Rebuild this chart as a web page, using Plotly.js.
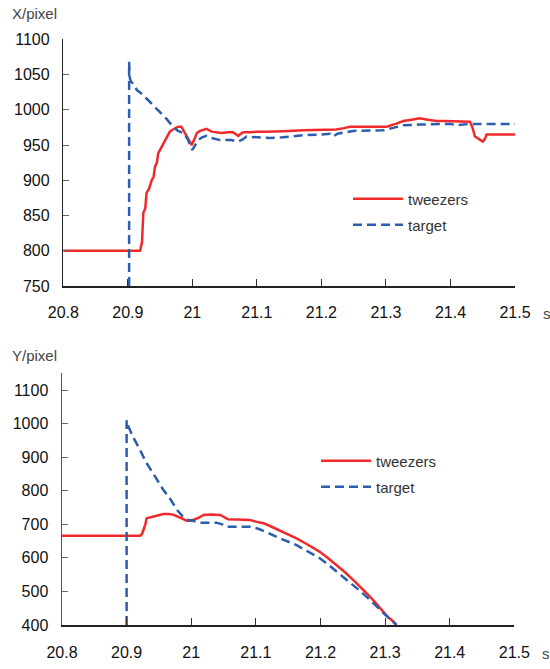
<!DOCTYPE html>
<html>
<head>
<meta charset="utf-8">
<script src="https://cdn.plot.ly/plotly-3.0.1.min.js"></script>
<style>
html,body{margin:0;padding:0;background:#fff;}
#chart{width:550px;height:669px;}
</style>
</head>
<body>
<div id="chart"></div>
<script>
// ---- X position (top chart) ----
const tXTweezers = [20.8,20.919,20.922,20.924,20.927,20.929,20.933,20.937,20.940,20.942,20.945,20.947,20.951,20.955,20.960,20.965,20.970,20.978,20.983,20.988,20.993,20.999,21.003,21.007,21.012,21.022,21.030,21.035,21.045,21.055,21.063,21.068,21.071,21.075,21.079,21.09,21.10,21.115,21.13,21.15,21.172,21.19,21.21,21.223,21.235,21.244,21.26,21.285,21.301,21.315,21.327,21.34,21.352,21.365,21.378,21.39,21.41,21.43,21.434,21.438,21.445,21.450,21.453,21.456,21.5];
const xTweezers = [800,800,812,854,860,882,888,900,905,919,925,938,945,952,960,969,972,976,976,968,958,950,958,967,970,973,969,968,967,968,968,965,963,966,968,968,969,969,969,970,971,971,972,972,974,976,976,976,976,980,984,986,988,986,984,984,983,983,975,962,958,955,958,965,965];

const tXTarget = [20.902,20.902,20.903,20.905,20.910,20.914,20.920,20.929,20.940,20.950,20.960,20.970,20.978,20.986,20.993,21.0,21.004,21.009,21.015,21.022,21.030,21.043,21.060,21.071,21.078,21.084,21.10,21.12,21.14,21.172,21.200,21.213,21.218,21.225,21.249,21.27,21.296,21.31,21.327,21.35,21.378,21.40,21.41,21.43,21.45,21.5];
const xTarget = [750,1068,1045,1040,1035,1028,1024,1016,1006,997,987,976,970,967,958,943,950,957,961,963,960,957,957,955,958,962,961,960,961,964,965,966,962,966,970,970,971,974,978,979,980,980,978,980,980,980];

// ---- Y position (bottom chart) ----
const tYTweezers = [20.8,20.921,20.924,20.926,20.929,20.931,20.941,20.950,20.957,20.965,20.972,20.980,20.987,20.993,21.000,21.006,21.012,21.019,21.030,21.045,21.050,21.057,21.070,21.091,21.100,21.112,21.122,21.132,21.145,21.163,21.180,21.199,21.212,21.225,21.238,21.251,21.264,21.277,21.285,21.292,21.300,21.307,21.313,21.317];
const yTweezers = [666,666,672,683,700,718,723,728,731,731,729,722,715,711,711,715,720,728,729,728,722,715,714,713,708,703,695,686,676,658,640,618,599,579,557,534,510,484,467,450,433,420,410,400];

const tYTarget = [20.900,20.900,20.903,20.910,20.921,20.930,20.941,20.950,20.957,20.967,20.978,20.986,20.993,21.000,21.014,21.039,21.048,21.055,21.075,21.091,21.105,21.122,21.138,21.163,21.180,21.199,21.212,21.225,21.238,21.251,21.264,21.277,21.287,21.297,21.306,21.315,21.318];
const yTarget = [400,1010,991,960,921,885,852,825,802,777,743,725,713,712,705,705,700,693,693,693,686,671,658,638,620,599,580,559,539,519,497,474,455,435,420,405,400];

// ---- labels ----
const seriesNames = ['tweezers','target'];
const xTickVals = [20.8,20.9,21.0,21.1,21.2,21.3,21.4,21.5];
const xTickText = ['20.8','20.9','21','21.1','21.2','21.3','21.4','21.5'];
const topYTicks = [750,800,850,900,950,1000,1050,1100];
const botYTicks = [400,500,600,700,800,900,1000,1100];

const RED = '#f02a2a';
const BLUE = '#2c5eae';
const LW = 2.5;
const DASH = '9px,5px';

const W = 550, H = 669;
const px = v => v / W;
const py = v => (H - v) / H;

const traces = [
  {x: tXTweezers, y: xTweezers, name: seriesNames[0], mode: 'lines', line: {color: RED, width: LW}, xaxis: 'x', yaxis: 'y', legend: 'legend'},
  {x: tXTarget, y: xTarget, name: seriesNames[1], mode: 'lines', line: {color: BLUE, width: LW, dash: DASH}, xaxis: 'x', yaxis: 'y', legend: 'legend2'},
  {x: tYTweezers, y: yTweezers, name: seriesNames[0], mode: 'lines', line: {color: RED, width: LW}, xaxis: 'x2', yaxis: 'y2', legend: 'legend3'},
  {x: tYTarget, y: yTarget, name: seriesNames[1], mode: 'lines', line: {color: BLUE, width: LW, dash: DASH}, xaxis: 'x2', yaxis: 'y2', legend: 'legend4'}
];

const tickFont = {family: 'Liberation Sans, Arial, sans-serif', size: 16, color: '#111'};
const labFont = {family: 'Liberation Sans, Arial, sans-serif', size: 15, color: '#444'};

function xAxis(domain, anchor, standoff) {
  return {
    domain: domain, anchor: anchor, range: [20.8, 21.5],
    tickvals: xTickVals, ticktext: xTickText,
    showline: true, linecolor: '#222', linewidth: 1.5,
    ticks: 'inside', ticklen: 7, tickwidth: 1, tickcolor: '#333',
    showgrid: false, zeroline: false, tickfont: tickFont,
    ticklabelstandoff: standoff, fixedrange: true
  };
}
function yAxis(domain, anchor, range, vals, lc) {
  return {
    domain: domain, anchor: anchor, range: range,
    tickvals: vals,
    showline: true, linecolor: lc, linewidth: 1.5,
    ticks: 'inside', ticklen: 6, tickwidth: 1, tickcolor: '#666',
    showgrid: false, zeroline: false, tickfont: tickFont,
    ticklabelstandoff: 9, fixedrange: true
  };
}
function leg(xp, yp) {
  return {x: px(xp), y: py(yp), xanchor: 'left', yanchor: 'middle', bgcolor: 'rgba(0,0,0,0)',
    borderwidth: 0, font: {family: 'Liberation Sans, Arial, sans-serif', size: 15, color: '#333'},
    itemwidth: 50, itemclick: false, itemdoubleclick: false};
}

const layout = {
  width: W, height: H,
  margin: {l: 0, r: 0, t: 0, b: 0, autoexpand: false},
  paper_bgcolor: '#fff', plot_bgcolor: '#fff',
  showlegend: true,
  xaxis: xAxis([px(63.3), px(515)], 'y', 11),
  yaxis: yAxis([py(286), py(39.3)], 'x', [750, 1100], topYTicks, '#222'),
  xaxis2: xAxis([px(62), px(514.3)], 'y2', 12),
  yaxis2: yAxis([py(625), py(373.3)], 'x2', [400, 1150], botYTicks, '#555'),
  legend: leg(348, 199),
  legend2: leg(348, 225),
  legend3: leg(316, 461),
  legend4: leg(316, 487),
  annotations: [
    {text: 'X/pixel', xref: 'paper', yref: 'paper', x: px(10), y: py(14), xanchor: 'left', yanchor: 'middle', showarrow: false, font: labFont},
    {text: 'Y/pixel', xref: 'paper', yref: 'paper', x: px(10), y: py(355), xanchor: 'left', yanchor: 'middle', showarrow: false, font: labFont},
    {text: 's', xref: 'paper', yref: 'paper', x: px(541), y: py(313), xanchor: 'left', yanchor: 'middle', showarrow: false, font: labFont},
    {text: 's', xref: 'paper', yref: 'paper', x: px(540), y: py(653), xanchor: 'left', yanchor: 'middle', showarrow: false, font: labFont}
  ]
};

Plotly.newPlot('chart', traces, layout, {staticPlot: true, displayModeBar: false});
</script>
</body>
</html>
